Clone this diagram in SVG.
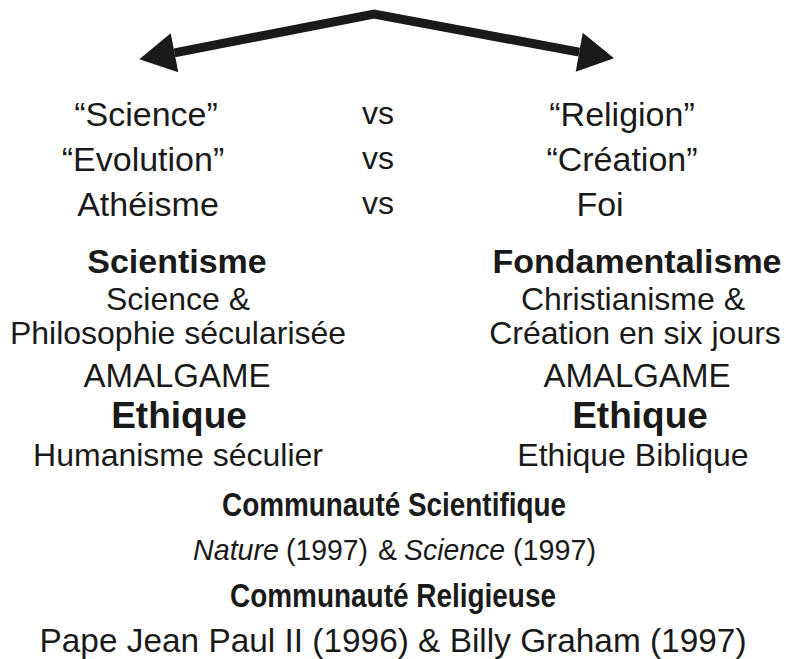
<svg xmlns="http://www.w3.org/2000/svg" width="787" height="659" viewBox="0 0 787 659">
<style>
text{font-family:"Liberation Sans",Arial,sans-serif;fill:#1a1a1a;text-anchor:middle}
.t{font-size:34px}
.r{font-size:32px}
.b{font-size:34px;font-weight:bold}
.e{font-size:37px;font-weight:bold}
.am{font-size:33px}
.cb{font-size:34px;font-weight:bold}
.cr{font-size:34px}
.n{font-size:30px}
.s{text-anchor:start}
.i{font-style:italic}
.sh{fill:none;stroke:#1a1a1a;stroke-width:9;stroke-linejoin:miter;stroke-miterlimit:10}
.hd{fill:#1a1a1a}
</style>
<rect width="787" height="659" fill="#fff"/>
<g id="connectors">
<polyline class="sh" points="174.5,52.8 374,14 579.2,52.2"/>
<polygon class="hd" points="139.3,59.3 170.7,33.3 178.3,72.3"/>
<polygon class="hd" points="614,58.3 582.7,32.7 575.7,71.7"/>
</g>
<g id="science-row">
<text class="t" x="146" y="126">“Science”</text>
<text class="t" x="143" y="171">“Evolution”</text>
<text class="t" x="148" y="216">Athéisme</text>
</g>
<g id="vs">
<text class="r" x="378" y="124">vs</text>
<text class="r" x="378" y="169">vs</text>
<text class="r" x="378" y="214">vs</text>
</g>
<g id="religion-row">
<text class="t" x="622" y="126">“Religion”</text>
<text class="t" x="622" y="171">“Création”</text>
<text class="t" x="600" y="216">Foi</text>
</g>
<g id="scientisme">
<text class="b" x="177" y="273">Scientisme</text>
<text class="r" x="178" y="310">Science &amp;</text>
<text class="r" x="178" y="344">Philosophie sécularisée</text>
<text class="am" x="177" y="387">AMALGAME</text>
<text class="e" x="179" y="428">Ethique</text>
<text class="r" x="178" y="466">Humanisme séculier</text>
</g>
<g id="fondamentalisme">
<text class="b" x="637" y="273">Fondamentalisme</text>
<text class="r" x="633" y="310">Christianisme &amp;</text>
<text class="r" x="635" y="344">Création en six jours</text>
<text class="am" x="637" y="387">AMALGAME</text>
<text class="e" x="640" y="428">Ethique</text>
<text class="r" x="633" y="466">Ethique Biblique</text>
</g>
<g id="communaute-scientifique">
<text class="cb" x="394" y="516" textLength="344" lengthAdjust="spacingAndGlyphs">Communauté Scientifique</text>
<text class="n s i" x="193" y="560" textLength="86" lengthAdjust="spacingAndGlyphs">Nature</text>
<text class="n s" x="286" y="560" textLength="82" lengthAdjust="spacingAndGlyphs">(1997)</text>
<text class="n s" x="378" y="560" textLength="19" lengthAdjust="spacingAndGlyphs">&amp;</text>
<text class="n s i" x="404" y="560" textLength="101" lengthAdjust="spacingAndGlyphs">Science</text>
<text class="n s" x="513" y="560" textLength="83" lengthAdjust="spacingAndGlyphs">(1997)</text>
</g>
<g id="communaute-religieuse">
<text class="cb" x="393" y="607" textLength="326" lengthAdjust="spacingAndGlyphs">Communauté Religieuse</text>
<text class="cr" x="393" y="652" textLength="707" lengthAdjust="spacingAndGlyphs">Pape Jean Paul II (1996) &amp; Billy Graham (1997)</text>
</g>
</svg>
